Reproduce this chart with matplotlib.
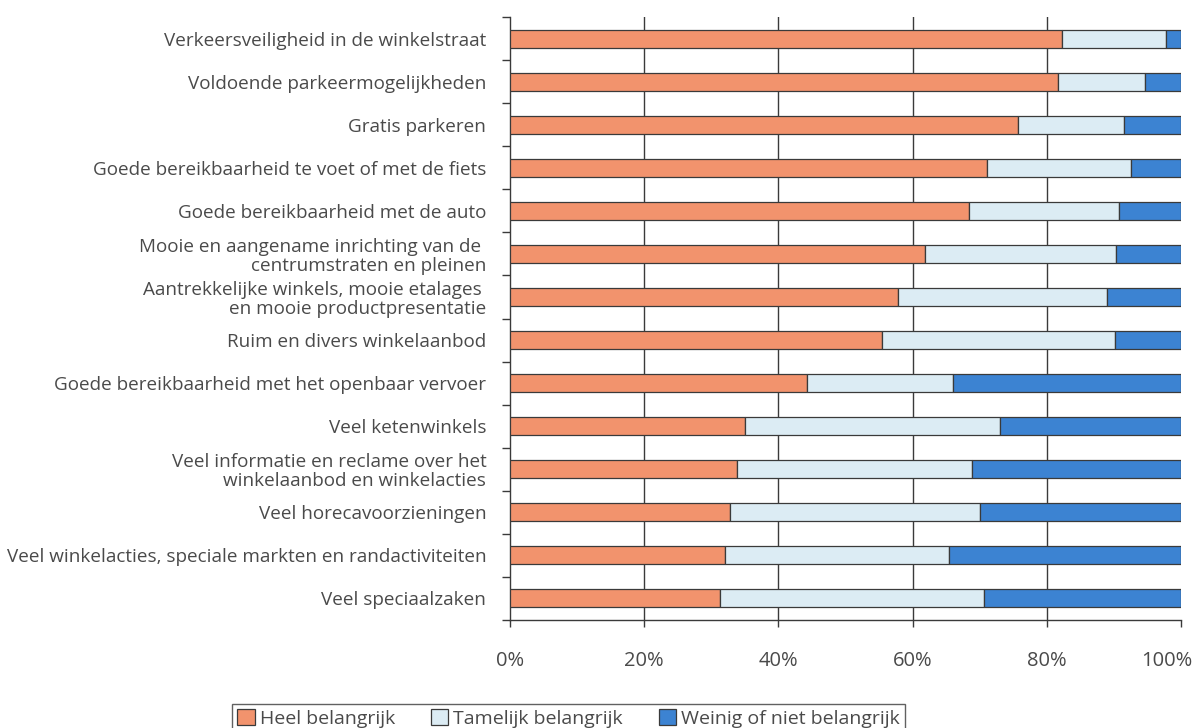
import numpy as np
import matplotlib.pyplot as plt
import matplotlib.transforms as mtransforms
from matplotlib.ticker import FixedLocator, FuncFormatter

plt.rcParams['font.family'] = ['Open Sans', 'DejaVu Sans']

labels = [
    "Verkeersveiligheid in de winkelstraat",
    "Voldoende parkeermogelijkheden",
    "Gratis parkeren",
    "Goede bereikbaarheid te voet of met de fiets",
    "Goede bereikbaarheid met de auto",
    "Mooie en aangename inrichting van de \ncentrumstraten en pleinen",
    "Aantrekkelijke winkels, mooie etalages \nen mooie productpresentatie",
    "Ruim en divers winkelaanbod",
    "Goede bereikbaarheid met het openbaar vervoer",
    "Veel ketenwinkels",
    "Veel informatie en reclame over het\nwinkelaanbod en winkelacties",
    "Veel horecavoorzieningen",
    "Veel winkelacties, speciale markten en randactiviteiten",
    "Veel speciaalzaken",
]

# percentages
heel = [82.3, 81.7, 75.7, 71.1, 68.4, 61.8, 57.8, 55.4, 44.2, 35.0, 33.9, 32.8, 32.1, 31.3]
tamelijk = [15.5, 12.9, 15.8, 21.4, 22.3, 28.5, 31.2, 34.8, 21.8, 38.0, 35.0, 37.3, 33.4, 39.3]
weinig = [100 - h - t for h, t in zip(heel, tamelijk)]

series_names = ["Heel belangrijk", "Tamelijk belangrijk", "Weinig of niet belangrijk"]
colors = ["#F2936D", "#DCECF4", "#3C83D2"]
txt = "#4a4a4a"
edge = "#3a3a3a"

fig = plt.figure(figsize=(11.97, 7.28), dpi=100)
ax = fig.add_axes([0.426, 0.1484, 0.5606, 0.8282])

y = np.arange(len(labels))
left = np.zeros(len(labels))
for vals, name, col in zip([heel, tamelijk, weinig], series_names, colors):
    ax.barh(y, vals, left=left, height=0.42, color=col, edgecolor=edge,
            linewidth=0.9, label=name, zorder=3)
    left = left + np.array(vals)

ax.set_xlim(0, 100)
ax.set_ylim(len(labels) - 0.5, -0.5)

for gx in [20, 40, 60, 80]:
    ax.axvline(gx, color=edge, linewidth=1.0, zorder=1)

ax.set_xticks([0, 20, 40, 60, 80, 100])
ax.xaxis.set_major_formatter(FuncFormatter(lambda v, p: f"{v:.0f}%"))
ax.tick_params(axis='x', direction='out', length=5, width=1, color=edge,
               pad=17, labelsize=14.5, labelcolor=txt)
# last label sits a bit to the left so it fits
last = ax.get_xticklabels()[-1]
last.set_transform(last.get_transform() + mtransforms.ScaledTranslation(-14 / 100, 0, fig.dpi_scale_trans))

ax.set_yticks(y)
ax.set_yticklabels(labels)
ax.yaxis.set_minor_locator(FixedLocator(np.arange(-0.5, len(labels), 1.0)))
ax.tick_params(axis='y', which='major', length=0, pad=17, labelsize=13.6, labelcolor=txt)
ax.tick_params(axis='y', which='minor', length=6, width=1, color=edge)
for lab in ax.get_yticklabels():
    lab.set_linespacing(1.05)

for s in ['top', 'right']:
    ax.spines[s].set_visible(False)
for s in ['left', 'bottom']:
    ax.spines[s].set_color(edge)
    ax.spines[s].set_linewidth(1.0)

leg = fig.legend(loc='upper center', bbox_to_anchor=(0.475, 0.046), ncol=3,
                 frameon=True, fancybox=False, edgecolor=edge, fontsize=14,
                 handlelength=0.9, handleheight=0.9, handletextpad=0.25,
                 columnspacing=1.85, borderpad=0.25, labelcolor=txt)
leg.get_frame().set_linewidth(1.0)

fig.savefig("out.png", dpi=100)
